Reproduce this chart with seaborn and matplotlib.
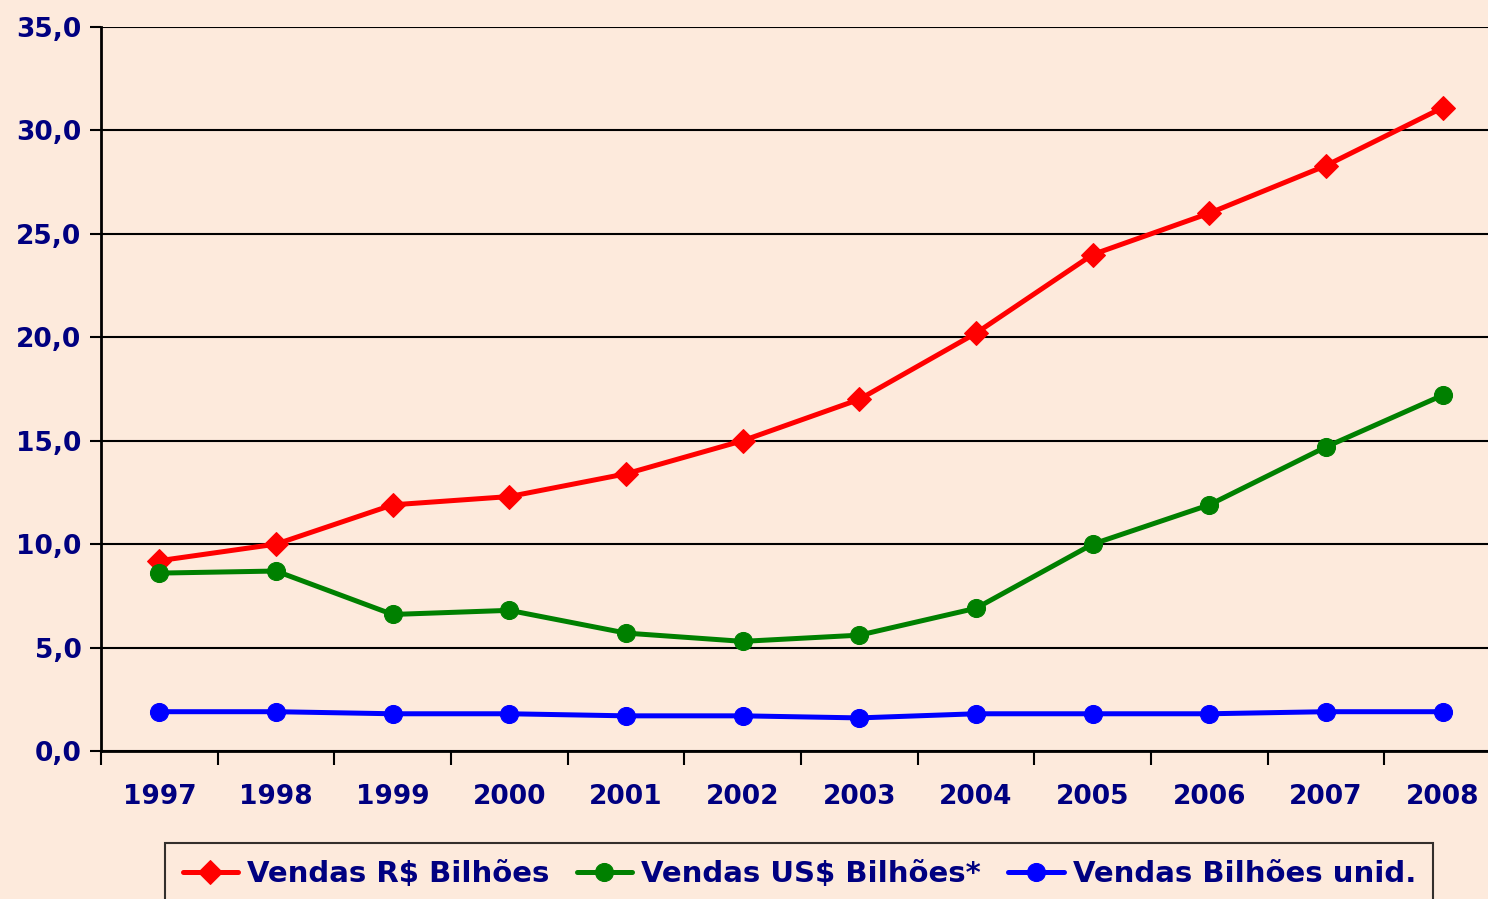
import numpy as np
import pandas as pd
import matplotlib
matplotlib.use("Agg")
import matplotlib.pyplot as plt
import seaborn as sns

years = ["1997", "1998", "1999", "2000", "2001", "2002",
         "2003", "2004", "2005", "2006", "2007", "2008"]
vendas_rs = [9.2, 10.0, 11.9, 12.3, 13.4, 15.0, 17.0, 20.2, 24.0, 26.0, 28.3, 31.1]
vendas_us = [8.6, 8.7, 6.6, 6.8, 5.7, 5.3, 5.6, 6.9, 10.0, 11.9, 14.7, 17.2]
vendas_unid = [1.9, 1.9, 1.8, 1.8, 1.7, 1.7, 1.6, 1.8, 1.8, 1.8, 1.9, 1.9]

labels = ["Vendas R$ Bilhões", "Vendas US$ Bilhões*", "Vendas Bilhões unid."]
colors = ["#FF0000", "#008000", "#0000FF"]
markers = ["D", "o", "o"]
msizes = [12, 13, 13]

bg = "#FDEADC"
navy = "#000080"

sns.set_style("white")
plt.rcParams["font.family"] = ["DejaVu Sans"]

fig = plt.figure(figsize=(14.88, 8.99), dpi=100, facecolor=bg)
ax = fig.add_axes([101 / 1488, 1 - 751 / 899, 1400 / 1488, 724 / 899])
ax.set_facecolor(bg)

for vals, lab, c, m, ms in zip([vendas_rs, vendas_us, vendas_unid], labels, colors, markers, msizes):
    df = pd.DataFrame({"ano": years, "valor": vals})
    sns.lineplot(data=df, x="ano", y="valor", ax=ax, color=c, marker=m,
                 markersize=ms, markeredgecolor=c, linewidth=3.6, label=lab)

ax.set_xlim(-0.5, 11.5)
ax.set_ylim(0, 35)
ax.set_yticks(np.arange(0, 36, 5))
ax.set_yticklabels([f"{v:.1f}".replace(".", ",") for v in np.arange(0, 36, 5)])
ax.yaxis.grid(True, color="black", linewidth=1.5)
ax.set_axisbelow(True)

ax.set_xticks(range(len(years)))
ax.set_xticklabels(years)
ax.set_xticks(np.arange(-0.5, 12, 1), minor=True)
ax.tick_params(axis="x", which="major", bottom=True, length=0, pad=24)
ax.tick_params(axis="x", which="minor", bottom=True, length=10, width=1.5,
               color="black", direction="out")
ax.tick_params(axis="y", left=True, length=8, width=1.5, color="black",
               direction="out", pad=6)
ax.tick_params(axis="both", labelsize=19, labelcolor=navy)
for t in ax.get_xticklabels() + ax.get_yticklabels():
    t.set_fontweight("bold")

for s in ["top", "right"]:
    ax.spines[s].set_visible(False)
for s in ["left", "bottom"]:
    ax.spines[s].set_color("black")
    ax.spines[s].set_linewidth(2)

ax.set_xlabel("")
ax.set_ylabel("")

leg = ax.legend(loc="upper left", bbox_to_anchor=(165 / 1488, 1 - 843 / 899),
                bbox_transform=fig.transFigure, ncol=3, frameon=True, fancybox=False,
                facecolor=bg, edgecolor="black", fontsize=21, handlelength=1.9,
                columnspacing=0.95, handletextpad=0.3, borderpad=0.6, borderaxespad=0)
leg.get_frame().set_linewidth(1.5)
for t in leg.get_texts():
    t.set_color(navy)
    t.set_fontweight("bold")

fig.savefig("out.png", dpi=100, facecolor=bg)
